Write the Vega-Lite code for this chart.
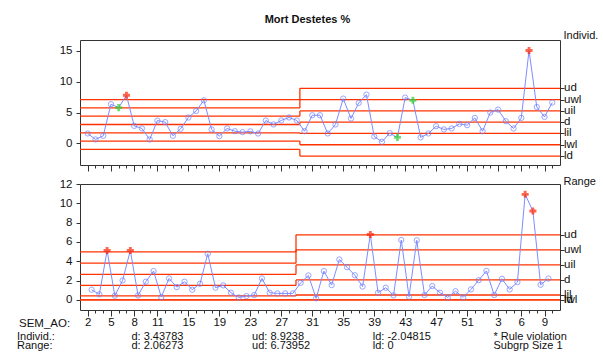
{
  "$schema": "https://vega.github.io/schema/vega-lite/v6.json",
  "autosize": {"type": "pad"},
  "padding": {"left": 16, "top": 13, "right": 0, "bottom": 0},
  "background": "white",
  "title": {"text": "Mort Destetes %", "fontSize": 11, "fontWeight": "bold", "anchor": "middle", "offset": 4, "color": "#111"},
  "config": {
    "font": "Liberation Sans",
    "view": {"stroke": "#333", "strokeWidth": 1},
    "axis": {"labelColor": "#111", "titleColor": "#111", "tickColor": "#333", "grid": false, "domain": false, "labelFontSize": 11.5, "labelFont": "Liberation Sans", "titleFont": "Liberation Sans"}
  },
  "datasets": {
    "indiv": [
      {"i":1,"sem":2,"v":1.61,"flag":"none"},{"i":2,"sem":3,"v":0.64,"flag":"none"},{"i":3,"sem":4,"v":1.23,"flag":"none"},
      {"i":4,"sem":5,"v":6.34,"flag":"none"},{"i":5,"sem":6,"v":5.8,"flag":"green"},{"i":6,"sem":7,"v":7.8,"flag":"red"},
      {"i":7,"sem":8,"v":2.84,"flag":"none"},{"i":8,"sem":9,"v":2.42,"flag":"none"},{"i":9,"sem":10,"v":0.64,"flag":"none"},
      {"i":10,"sem":11,"v":3.7,"flag":"none"},{"i":11,"sem":12,"v":3.44,"flag":"none"},{"i":12,"sem":13,"v":1.23,"flag":"none"},
      {"i":13,"sem":14,"v":2.36,"flag":"none"},{"i":14,"sem":15,"v":4.19,"flag":"none"},{"i":15,"sem":16,"v":5.26,"flag":"none"},
      {"i":16,"sem":17,"v":6.98,"flag":"none"},{"i":17,"sem":18,"v":2.26,"flag":"none"},{"i":18,"sem":19,"v":1.18,"flag":"none"},
      {"i":19,"sem":20,"v":2.42,"flag":"none"},{"i":20,"sem":21,"v":1.98,"flag":"none"},{"i":21,"sem":22,"v":1.82,"flag":"none"},
      {"i":22,"sem":23,"v":1.95,"flag":"none"},{"i":23,"sem":24,"v":1.6,"flag":"none"},{"i":24,"sem":25,"v":3.7,"flag":"none"},
      {"i":25,"sem":26,"v":3.07,"flag":"none"},{"i":26,"sem":27,"v":3.72,"flag":"none"},{"i":27,"sem":28,"v":4.2,"flag":"none"},
      {"i":28,"sem":29,"v":3.72,"flag":"none"},{"i":29,"sem":30,"v":1.98,"flag":"none"},{"i":30,"sem":31,"v":4.56,"flag":"none"},
      {"i":31,"sem":32,"v":4.56,"flag":"none"},{"i":32,"sem":33,"v":1.61,"flag":"none"},{"i":33,"sem":34,"v":3.06,"flag":"none"},
      {"i":34,"sem":35,"v":7.26,"flag":"none"},{"i":35,"sem":36,"v":4.03,"flag":"none"},{"i":36,"sem":37,"v":6.55,"flag":"none"},
      {"i":37,"sem":38,"v":7.9,"flag":"none"},{"i":38,"sem":39,"v":1.13,"flag":"none"},{"i":39,"sem":40,"v":0.26,"flag":"none"},
      {"i":40,"sem":41,"v":1.66,"flag":"none"},{"i":41,"sem":42,"v":0.97,"flag":"green"},{"i":42,"sem":43,"v":7.42,"flag":"none"},
      {"i":43,"sem":44,"v":6.98,"flag":"green"},{"i":44,"sem":45,"v":0.97,"flag":"none"},{"i":45,"sem":46,"v":1.61,"flag":"none"},
      {"i":46,"sem":47,"v":2.79,"flag":"none"},{"i":47,"sem":48,"v":2.26,"flag":"none"},{"i":48,"sem":49,"v":2.42,"flag":"none"},
      {"i":49,"sem":50,"v":3.16,"flag":"none"},{"i":50,"sem":51,"v":2.95,"flag":"none"},{"i":51,"sem":52,"v":4.13,"flag":"none"},
      {"i":52,"sem":1,"v":1.98,"flag":"none"},{"i":53,"sem":2,"v":5.0,"flag":"none"},{"i":54,"sem":3,"v":5.48,"flag":"none"},
      {"i":55,"sem":4,"v":3.6,"flag":"none"},{"i":56,"sem":5,"v":2.42,"flag":"none"},{"i":57,"sem":6,"v":4.13,"flag":"none"},
      {"i":58,"sem":7,"v":15.05,"flag":"red"},{"i":59,"sem":8,"v":5.9,"flag":"none"},{"i":60,"sem":9,"v":4.29,"flag":"none"},
      {"i":61,"sem":10,"v":6.61,"flag":"none"}
    ],
    "mr": [
      {"i":2,"v":1.05,"flag":"none"},{"i":3,"v":0.57,"flag":"none"},{"i":4,"v":5.11,"flag":"red"},{"i":5,"v":0.43,"flag":"none"},
      {"i":6,"v":2.01,"flag":"none"},{"i":7,"v":5.11,"flag":"red"},{"i":8,"v":0.46,"flag":"none"},{"i":9,"v":1.88,"flag":"none"},
      {"i":10,"v":2.98,"flag":"none"},{"i":11,"v":0.29,"flag":"none"},{"i":12,"v":2.22,"flag":"none"},{"i":13,"v":1.32,"flag":"none"},
      {"i":14,"v":1.88,"flag":"none"},{"i":15,"v":1.05,"flag":"none"},{"i":16,"v":1.67,"flag":"none"},{"i":17,"v":4.77,"flag":"none"},
      {"i":18,"v":1.26,"flag":"none"},{"i":19,"v":1.5,"flag":"none"},{"i":20,"v":0.74,"flag":"none"},{"i":21,"v":0.25,"flag":"none"},
      {"i":22,"v":0.4,"flag":"none"},{"i":23,"v":0.5,"flag":"none"},{"i":24,"v":2.22,"flag":"none"},{"i":25,"v":0.74,"flag":"none"},
      {"i":26,"v":0.67,"flag":"none"},{"i":27,"v":0.67,"flag":"none"},{"i":28,"v":0.67,"flag":"none"},{"i":29,"v":1.76,"flag":"none"},
      {"i":30,"v":2.53,"flag":"none"},{"i":31,"v":0.16,"flag":"none"},{"i":32,"v":2.98,"flag":"none"},{"i":33,"v":1.53,"flag":"none"},
      {"i":34,"v":4.18,"flag":"none"},{"i":35,"v":3.38,"flag":"none"},{"i":36,"v":2.55,"flag":"none"},{"i":37,"v":1.38,"flag":"none"},
      {"i":38,"v":6.77,"flag":"red"},{"i":39,"v":0.74,"flag":"none"},{"i":40,"v":1.26,"flag":"none"},{"i":41,"v":0.46,"flag":"none"},
      {"i":42,"v":6.2,"flag":"none"},{"i":43,"v":0.33,"flag":"none"},{"i":44,"v":6.17,"flag":"none"},{"i":45,"v":0.5,"flag":"none"},
      {"i":46,"v":1.43,"flag":"none"},{"i":47,"v":0.74,"flag":"none"},{"i":48,"v":0.26,"flag":"none"},{"i":49,"v":0.9,"flag":"none"},
      {"i":50,"v":0.26,"flag":"none"},{"i":51,"v":1.08,"flag":"none"},{"i":52,"v":2.04,"flag":"none"},{"i":53,"v":3.0,"flag":"none"},
      {"i":54,"v":0.5,"flag":"none"},{"i":55,"v":2.18,"flag":"none"},{"i":56,"v":1.08,"flag":"none"},{"i":57,"v":1.84,"flag":"none"},
      {"i":58,"v":10.93,"flag":"red"},{"i":59,"v":9.2,"flag":"red"},{"i":60,"v":1.56,"flag":"none"},{"i":61,"v":2.21,"flag":"none"}
    ],
    "limits": [
      {"panel":"Individ","limit":"ud","phase":1,"start":0,"end":28.4,"v":7.1},
      {"panel":"Individ","limit":"uwl","phase":1,"start":0,"end":28.4,"v":5.75},
      {"panel":"Individ","limit":"uil","phase":1,"start":0,"end":28.4,"v":4.41},
      {"panel":"Individ","limit":"d","phase":1,"start":0,"end":28.4,"v":3.06},
      {"panel":"Individ","limit":"lil","phase":1,"start":0,"end":28.4,"v":1.71},
      {"panel":"Individ","limit":"lwl","phase":1,"start":0,"end":28.4,"v":0.37},
      {"panel":"Individ","limit":"ld","phase":1,"start":0,"end":28.4,"v":-0.97},
      {"panel":"Individ","limit":"ud","phase":2,"start":28.4,"end":62,"v":8.9238},
      {"panel":"Individ","limit":"uwl","phase":2,"start":28.4,"end":62,"v":7.0951},
      {"panel":"Individ","limit":"uil","phase":2,"start":28.4,"end":62,"v":5.2665},
      {"panel":"Individ","limit":"d","phase":2,"start":28.4,"end":62,"v":3.43783},
      {"panel":"Individ","limit":"lil","phase":2,"start":28.4,"end":62,"v":1.6092},
      {"panel":"Individ","limit":"lwl","phase":2,"start":28.4,"end":62,"v":-0.2195},
      {"panel":"Individ","limit":"ld","phase":2,"start":28.4,"end":62,"v":-2.04815},
      {"panel":"Range","limit":"ud","phase":1,"start":0.5,"end":28.4,"v":4.97},
      {"panel":"Range","limit":"uwl","phase":1,"start":0.5,"end":28.4,"v":3.8},
      {"panel":"Range","limit":"uil","phase":1,"start":0.5,"end":28.4,"v":2.65},
      {"panel":"Range","limit":"d","phase":1,"start":0.5,"end":28.4,"v":1.5},
      {"panel":"Range","limit":"lil","phase":1,"start":0.5,"end":28.4,"v":0.42},
      {"panel":"Range","limit":"lwl","phase":1,"start":0.5,"end":28.4,"v":0},
      {"panel":"Range","limit":"ld","phase":1,"start":0.5,"end":28.4,"v":0},
      {"panel":"Range","limit":"ud","phase":2,"start":28.4,"end":62.5,"v":6.73952},
      {"panel":"Range","limit":"uwl","phase":2,"start":28.4,"end":62.5,"v":5.1805},
      {"panel":"Range","limit":"uil","phase":2,"start":28.4,"end":62.5,"v":3.6216},
      {"panel":"Range","limit":"d","phase":2,"start":28.4,"end":62.5,"v":2.06273},
      {"panel":"Range","limit":"lil","phase":2,"start":28.4,"end":62.5,"v":0.5038},
      {"panel":"Range","limit":"lwl","phase":2,"start":28.4,"end":62.5,"v":0},
      {"panel":"Range","limit":"ld","phase":2,"start":28.4,"end":62.5,"v":0}
    ],
    "steps": [
      {"panel":"Individ","limit":"ud","at":28.4,"v1":7.1,"v2":8.9238},
      {"panel":"Individ","limit":"uwl","at":28.4,"v1":5.75,"v2":7.0951},
      {"panel":"Individ","limit":"uil","at":28.4,"v1":4.41,"v2":5.2665},
      {"panel":"Individ","limit":"d","at":28.4,"v1":3.06,"v2":3.43783},
      {"panel":"Individ","limit":"lil","at":28.4,"v1":1.71,"v2":1.6092},
      {"panel":"Individ","limit":"lwl","at":28.4,"v1":0.37,"v2":-0.2195},
      {"panel":"Individ","limit":"ld","at":28.4,"v1":-0.97,"v2":-2.04815},
      {"panel":"Range","limit":"ud","at":28.4,"v1":4.97,"v2":6.73952},
      {"panel":"Range","limit":"uwl","at":28.4,"v1":3.8,"v2":5.1805},
      {"panel":"Range","limit":"uil","at":28.4,"v1":2.65,"v2":3.6216},
      {"panel":"Range","limit":"d","at":28.4,"v1":1.5,"v2":2.06273},
      {"panel":"Range","limit":"lil","at":28.4,"v1":0.42,"v2":0.5038}
    ],
    "footer": [
      {"row":"Individ.:","col":"d","text":"d:  3.43783"},
      {"row":"Individ.:","col":"ud","text":"ud:  8.9238"},
      {"row":"Individ.:","col":"ld","text":"ld: -2.04815"},
      {"row":"Individ.:","col":"note","text":"* Rule violation"},
      {"row":"Range:","col":"d","text":"d:  2.06273"},
      {"row":"Range:","col":"ud","text":"ud:  6.73952"},
      {"row":"Range:","col":"ld","text":"ld:  0"},
      {"row":"Range:","col":"note","text":"Subgrp Size 1"}
    ]
  },
  "bounds": "flush",
  "spacing": 19,
  "vconcat": [
    {
      "width": 480,
      "height": 125,
      "layer": [
        {
          "data": {"name": "limits"},
          "transform": [{"filter": "datum.panel == 'Individ'"}],
          "mark": {"type": "rule", "color": "#ff3300", "strokeWidth": 1.3},
          "encoding": {
            "x": {"field": "start", "type": "quantitative", "scale": {"domain": [0, 62], "nice": false, "zero": false}, "axis": null},
            "x2": {"field": "end"},
            "y": {"field": "v", "type": "quantitative", "scale": {"domain": [-3.5, 16.75], "nice": false, "zero": false},
              "axis": {"orient": "right", "values": [8.9238, 7.0951, 5.2665, 3.43783, 1.6092, -0.2195, -2.04815], "labels": false, "tickSize": 4, "title": "Individ.", "titleAngle": 0, "titleAlign": "left", "titleBaseline": "middle", "titleX": 3, "titleY": -5, "titleFontWeight": "normal", "titleFontSize": 11}}
          }
        },
        {
          "data": {"name": "steps"},
          "transform": [{"filter": "datum.panel == 'Individ'"}],
          "mark": {"type": "rule", "color": "#ff3300", "strokeWidth": 1.3},
          "encoding": {
            "x": {"field": "at", "type": "quantitative", "axis": null},
            "y": {"field": "v1", "type": "quantitative", "axis": null},
            "y2": {"field": "v2"}
          }
        },
        {
          "data": {"name": "limits"},
          "transform": [{"filter": "datum.panel == 'Individ' && datum.phase == 2"}],
          "mark": {"type": "text", "align": "left", "baseline": "middle", "dx": 4, "fontSize": 11.5, "color": "#111"},
          "encoding": {
            "x": {"field": "end", "type": "quantitative", "axis": null},
            "y": {"field": "v", "type": "quantitative", "axis": null},
            "text": {"field": "limit"}
          }
        },
        {
          "data": {"name": "indiv"},
          "mark": {"type": "line", "color": "#7f8cff", "strokeWidth": 1},
          "encoding": {
            "x": {"field": "i", "type": "quantitative",
              "axis": {"orient": "bottom", "values": [1,2,3,4,5,6,7,8,9,10,11,12,13,14,15,16,17,18,19,20,21,22,23,24,25,26,27,28,29,30,31,32,33,34,35,36,37,38,39,40,41,42,43,44,45,46,47,48,49,50,51,52,53,54,55,56,57,58,59,60,61], "labels": false, "title": null,
                "tickSize": {"condition": {"test": "indexof([1,4,7,10,14,18,22,26,30,34,38,42,46,50,54,57,60], datum.value) >= 0", "value": 6}, "value": 3}}},
            "y": {"field": "v", "type": "quantitative",
              "axis": {"orient": "left", "values": [0, 5, 10, 15], "tickSize": 4, "labelPadding": 4, "title": null}}
          }
        },
        {
          "data": {"name": "indiv"},
          "transform": [{"filter": "datum.flag == 'none'"}],
          "mark": {"type": "point", "shape": "circle", "filled": false, "color": "#6f7fff", "size": 28, "strokeWidth": 1},
          "encoding": {
            "x": {"field": "i", "type": "quantitative", "axis": null},
            "y": {"field": "v", "type": "quantitative", "axis": null}
          }
        },
        {
          "data": {"name": "indiv"},
          "transform": [{"filter": "datum.flag != 'none'"}],
          "mark": {"type": "point", "shape": "cross", "filled": true, "size": 50},
          "encoding": {
            "x": {"field": "i", "type": "quantitative", "axis": null},
            "y": {"field": "v", "type": "quantitative", "axis": null},
            "color": {"field": "flag", "type": "nominal", "scale": {"domain": ["red", "green"], "range": ["#ff2200", "#33cc33"]}, "legend": null}
          }
        },
        {
          "mark": {"type": "text", "text": "Grupos control/sin MOS", "fontSize": 11.5, "color": "#111", "align": "center", "baseline": "middle"},
          "encoding": {
            "x": {"datum": 15.8, "type": "quantitative", "axis": null},
            "y": {"datum": 12.5, "type": "quantitative", "axis": null}
          }
        },
        {
          "mark": {"type": "text", "text": "Grupo MOS", "fontSize": 11.5, "color": "#111", "align": "center", "baseline": "middle"},
          "encoding": {
            "x": {"datum": 38.7, "type": "quantitative", "axis": null},
            "y": {"datum": 12.6, "type": "quantitative", "axis": null}
          }
        }
      ],
      "resolve": {"axis": {"x": "independent", "y": "independent"}}
    },
    {
      "bounds": "flush",
      "spacing": 22,
      "vconcat": [
        {
          "width": 480,
          "height": 126,
          "layer": [
            {
              "data": {"name": "limits"},
              "transform": [{"filter": "datum.panel == 'Range'"}],
              "mark": {"type": "rule", "color": "#ff3300", "strokeWidth": 1.3},
              "encoding": {
                "x": {"field": "start", "type": "quantitative", "scale": {"domain": [0.5, 62.5], "nice": false, "zero": false}, "axis": null},
                "x2": {"field": "end"},
                "y": {"field": "v", "type": "quantitative", "scale": {"domain": [-1.05, 12], "nice": false, "zero": false},
                  "axis": {"orient": "right", "values": [6.73952, 5.1805, 3.6216, 2.06273, 0.5038, 0], "labels": false, "tickSize": 4, "title": "Range", "titleAngle": 0, "titleAlign": "left", "titleBaseline": "middle", "titleX": 3, "titleY": -3, "titleFontWeight": "normal", "titleFontSize": 11}}
              }
            },
            {
              "data": {"name": "steps"},
              "transform": [{"filter": "datum.panel == 'Range'"}],
              "mark": {"type": "rule", "color": "#ff3300", "strokeWidth": 1.3},
              "encoding": {
                "x": {"field": "at", "type": "quantitative", "axis": null},
                "y": {"field": "v1", "type": "quantitative", "axis": null},
                "y2": {"field": "v2"}
              }
            },
            {
              "data": {"name": "limits"},
              "transform": [{"filter": "datum.panel == 'Range' && datum.phase == 2"}],
              "mark": {"type": "text", "align": "left", "baseline": "middle", "dx": 4, "fontSize": 11.5, "color": "#111"},
              "encoding": {
                "x": {"field": "end", "type": "quantitative", "axis": null},
                "y": {"field": "v", "type": "quantitative", "axis": null},
                "text": {"field": "limit"}
              }
            },
            {
              "data": {"name": "mr"},
              "mark": {"type": "line", "color": "#7f8cff", "strokeWidth": 1},
              "encoding": {
                "x": {"field": "i", "type": "quantitative",
                  "axis": {"orient": "bottom", "values": [1.5,2.5,3.5,4.5,5.5,6.5,7.5,8.5,9.5,10.5,11.5,12.5,13.5,14.5,15.5,16.5,17.5,18.5,19.5,20.5,21.5,22.5,23.5,24.5,25.5,26.5,27.5,28.5,29.5,30.5,31.5,32.5,33.5,34.5,35.5,36.5,37.5,38.5,39.5,40.5,41.5,42.5,43.5,44.5,45.5,46.5,47.5,48.5,49.5,50.5,51.5,52.5,53.5,54.5,55.5,56.5,57.5,58.5,59.5,60.5,61.5],
                    "labelExpr": "indexof([1,4,7,10,14,18,22,26,30,34,38,42,46,50,54,57,60], datum.value - 0.5) >= 0 ? (datum.value - 0.5 <= 51 ? datum.value + 0.5 : datum.value - 51.5) : ''",
                    "labelOverlap": false, "labelFlush": false, "labelPadding": 0,
                    "tickSize": {"condition": {"test": "indexof([1,4,7,10,14,18,22,26,30,34,38,42,46,50,54,57,60], datum.value - 0.5) >= 0", "value": 6}, "value": 3},
                    "title": "SEM_AO:", "titleX": -61.5, "titleY": 7, "titleAlign": "left", "titleBaseline": "top", "titleFontWeight": "normal", "titleFontSize": 11.5}},
                "y": {"field": "v", "type": "quantitative",
                  "axis": {"orient": "left", "values": [0, 2, 4, 6, 8, 10, 12], "tickSize": 4, "labelPadding": 4, "title": null}}
              }
            },
            {
              "data": {"name": "mr"},
              "transform": [{"filter": "datum.flag == 'none'"}],
              "mark": {"type": "point", "shape": "circle", "filled": false, "color": "#6f7fff", "size": 28, "strokeWidth": 1},
              "encoding": {
                "x": {"field": "i", "type": "quantitative", "axis": null},
                "y": {"field": "v", "type": "quantitative", "axis": null}
              }
            },
            {
              "data": {"name": "mr"},
              "transform": [{"filter": "datum.flag != 'none'"}],
              "mark": {"type": "point", "shape": "cross", "filled": true, "size": 50},
              "encoding": {
                "x": {"field": "i", "type": "quantitative", "axis": null},
                "y": {"field": "v", "type": "quantitative", "axis": null},
                "color": {"field": "flag", "type": "nominal", "scale": {"domain": ["red", "green"], "range": ["#ff2200", "#33cc33"]}, "legend": null}
              }
            }
          ],
          "resolve": {"axis": {"x": "independent", "y": "independent"}}
        },
        {
          "width": 480,
          "height": 18,
          "view": {"stroke": null},
          "data": {"name": "footer"},
          "mark": {"type": "text", "align": "left", "baseline": "middle", "fontSize": 11, "color": "#111"},
          "encoding": {
            "x": {"field": "col", "type": "nominal", "sort": ["d", "ud", "ld", "note"], "scale": {"type": "point", "padding": 0.489, "align": 0.436}, "axis": null},
            "y": {"field": "row", "type": "nominal", "sort": ["Individ.:", "Range:"], "scale": {"type": "point", "padding": 0.5},
              "axis": {"orient": "left", "title": null, "ticks": false, "tickSize": 0, "labelAlign": "left", "labelBaseline": "middle", "labelPadding": 63.5, "labelFontSize": 11}},
            "text": {"field": "text"}
          }
        }
      ]
    }
  ]
}
